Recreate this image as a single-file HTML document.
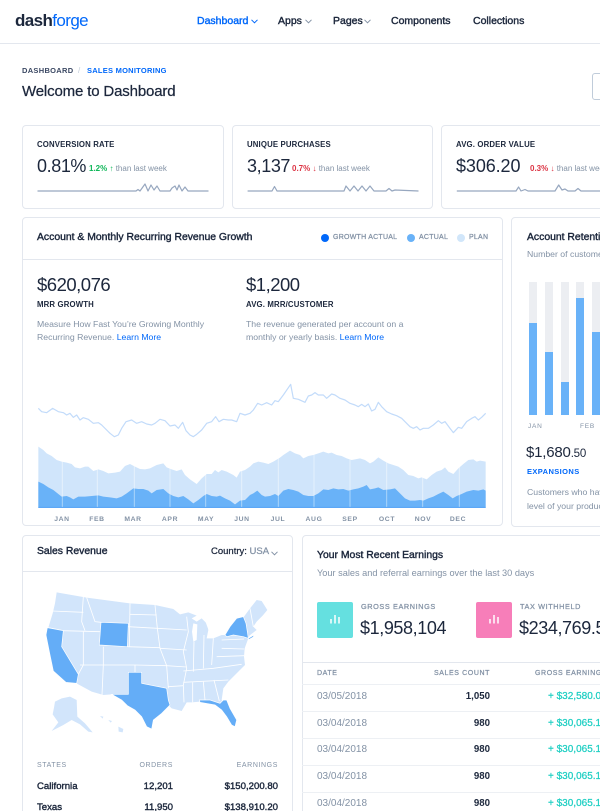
<!DOCTYPE html>
<html><head><meta charset="utf-8">
<style>
*{box-sizing:border-box;margin:0;padding:0}
html,body{width:600px;height:811px;overflow:hidden;background:#fff}
body{position:relative;font-family:"Liberation Sans","DejaVu Sans",sans-serif;color:#1c273c}
.t{position:absolute;white-space:nowrap;line-height:20px;height:20px}
.m{-webkit-text-stroke:0.25px currentColor}
.n{-webkit-text-stroke:0.4px currentColor}
.card{position:absolute;border:1px solid #e3e7ee;border-radius:4px;background:#fff}
.lbl{font-size:7.8px;font-weight:bold;letter-spacing:0.15px;color:#1c273c}
.g{color:#8392a5}
.b{color:#0168fa}
.cap{font-size:7px;letter-spacing:0.6px;color:#8392a5}
.mon{position:absolute;width:40px;text-align:center;font-size:6.8px;letter-spacing:0.6px;color:#8392a5;font-weight:bold;line-height:20px;top:510px}
.row{position:absolute;left:302px;width:300px;height:1px;background:#edf0f4}
</style></head><body>

<!-- header -->
<div class="t" style="left:15px;top:11px;font-size:17px;letter-spacing:-0.6px"><b style="color:#1c273c">dash</b><span style="color:#0168fa">forge</span></div>
<div class="t n b" style="left:197px;top:11px;font-size:10.5px">Dashboard</div>
<svg style="position:absolute;left:251px;top:19px" width="7" height="5"><polyline points="0.5,0.8 3.5,3.8 6.5,0.8" fill="none" stroke="#0168fa" stroke-width="1"/></svg>
<div class="t n" style="left:278px;top:11px;font-size:10.5px">Apps</div>
<svg style="position:absolute;left:305px;top:19px" width="7" height="5"><polyline points="0.5,0.8 3.5,3.8 6.5,0.8" fill="none" stroke="#8392a5" stroke-width="1"/></svg>
<div class="t n" style="left:333px;top:11px;font-size:10.5px">Pages</div>
<svg style="position:absolute;left:364px;top:19px" width="7" height="5"><polyline points="0.5,0.8 3.5,3.8 6.5,0.8" fill="none" stroke="#8392a5" stroke-width="1"/></svg>
<div class="t n" style="left:391px;top:11px;font-size:10.5px">Components</div>
<div class="t n" style="left:473px;top:11px;font-size:10.5px">Collections</div>
<div style="position:absolute;left:0;top:43px;width:600px;height:1px;background:#e3e7ee"></div>

<!-- breadcrumb -->
<div class="t" style="left:22px;top:61px;font-size:7.5px;font-weight:bold;letter-spacing:0.3px;color:#3b4863">DASHBOARD</div>
<div class="t" style="left:78px;top:61px;font-size:8px;color:#c0ccda">/</div>
<div class="t b" style="left:87px;top:61px;font-size:7.5px;font-weight:bold;letter-spacing:0.25px">SALES MONITORING</div>
<div class="t m" style="left:22px;top:82px;font-size:15px;letter-spacing:-0.15px">Welcome to Dashboard</div>
<div style="position:absolute;left:592px;top:73px;width:30px;height:27px;border:1px solid #c0ccda;border-radius:3px"></div>

<!-- stat cards -->
<div class="card" style="left:22px;top:125px;width:202px;height:84px"></div>
<div class="card" style="left:232px;top:125px;width:201px;height:84px"></div>
<div class="card" style="left:441px;top:125px;width:200px;height:84px"></div>

<div class="t lbl" style="left:37px;top:135px">CONVERSION RATE</div>
<div class="t" style="left:37px;top:156px;font-size:18px;letter-spacing:-0.4px">0.81%</div>
<div class="t" style="left:89px;top:159px;font-size:8px"><b style="color:#10b759">1.2%</b> <span style="color:#10b759">↑</span> <span class="g">than last week</span></div>

<div class="t lbl" style="left:247px;top:135px">UNIQUE PURCHASES</div>
<div class="t" style="left:247px;top:156px;font-size:18px;letter-spacing:-0.4px">3,137</div>
<div class="t" style="left:292px;top:159px;font-size:8px"><b style="color:#dc3545">0.7%</b> <span style="color:#dc3545">↓</span> <span class="g">than last week</span></div>

<div class="t lbl" style="left:456px;top:135px">AVG. ORDER VALUE</div>
<div class="t" style="left:456px;top:156px;font-size:18px;letter-spacing:-0.1px">$306.20</div>
<div class="t" style="left:530px;top:159px;font-size:8px"><b style="color:#dc3545">0.3%</b> <span style="color:#dc3545">↓</span> <span class="g">than last week</span></div>

<svg style="position:absolute;left:0;top:175px" width="600" height="20">
<g fill="none" stroke="#97a7bf" stroke-width="1.2" stroke-linejoin="round">
<polyline points="37.5,16 136,16 138,14.5 140,16 145,9 148,16 151,10 154,15 157,11 160,16 170,16 172,13 175,11 177,15 179,10 182,16 185,12 188,16 208.5,16"/>
<polyline points="247.6,16 272,16 274.5,11.5 277,16 344,16 346,11 350,16 354,11 358,16 362,11 366,16 370,11 374,16 386,16 389,13.5 392,16 395,15 418.5,16"/>
<polyline points="456.8,16 516,16 518.6,12 521,16 525,14.5 528,16 555,16 558.7,10 562,15 565,14 568,16 575,16 578,13.5 581,16 600,16"/>
</g></svg>

<!-- main chart card -->
<div class="card" style="left:22px;top:217px;width:481px;height:309px"></div>
<div style="position:absolute;left:23px;top:259px;width:479px;height:1px;background:#e3e7ee"></div>
<div class="t n" style="left:37px;top:228px;font-size:10.4px">Account &amp; Monthly Recurring Revenue Growth</div>
<div style="position:absolute;left:321px;top:234px;width:8px;height:8px;border-radius:50%;background:#0168fa"></div>
<div class="t m" style="left:333px;top:228px;font-size:7px;letter-spacing:0.25px;color:#8392a5">GROWTH ACTUAL</div>
<div style="position:absolute;left:407px;top:234px;width:8px;height:8px;border-radius:50%;background:#69b2f8"></div>
<div class="t m" style="left:419px;top:228px;font-size:7px;letter-spacing:0.25px;color:#8392a5">ACTUAL</div>
<div style="position:absolute;left:457px;top:234px;width:8px;height:8px;border-radius:50%;background:#d1e6fa"></div>
<div class="t m" style="left:469px;top:228px;font-size:7px;letter-spacing:0.25px;color:#8392a5">PLAN</div>

<div class="t" style="left:37px;top:275px;font-size:18.5px;letter-spacing:-0.5px">$620,076</div>
<div class="t lbl" style="left:37px;top:295px">MRR GROWTH</div>
<div class="t g" style="left:37px;top:314px;font-size:8.7px">Measure How Fast You’re Growing Monthly</div>
<div class="t g" style="left:37px;top:327px;font-size:8.7px">Recurring Revenue. <span class="b">Learn More</span></div>

<div class="t" style="left:246px;top:275px;font-size:18.5px;letter-spacing:-0.5px">$1,200</div>
<div class="t lbl" style="left:246px;top:295px">AVG. MRR/CUSTOMER</div>
<div class="t g" style="left:246px;top:314px;font-size:8.7px">The revenue generated per account on a</div>
<div class="t g" style="left:246px;top:327px;font-size:8.7px">monthly or yearly basis. <span class="b">Learn More</span></div>

<svg style="position:absolute;left:20px;top:370px" width="490" height="165" viewBox="0 0 1470 495" preserveAspectRatio="none">
<path fill="#d0e5fb" d="M55,413 L55,230 70,240 80,250 95,258 110,270 125,275 140,278 155,282 165,292 180,295 195,290 205,290 220,303 235,298 250,303 265,310 285,308 300,305 315,288 330,282 345,290 360,297 375,298 390,295 410,285 430,280 440,292 455,298 470,303 485,298 495,315 510,328 530,342 545,325 560,312 575,312 585,300 595,307 605,300 620,305 640,315 650,323 660,305 675,300 690,290 700,280 715,275 730,278 745,282 760,275 780,263 790,255 810,242 825,250 840,255 850,265 865,258 880,255 895,250 910,245 925,250 935,248 950,255 965,258 980,265 995,270 1005,268 1020,265 1035,270 1050,280 1060,275 1075,262 1090,272 1105,280 1120,285 1135,290 1150,300 1165,315 1180,318 1195,325 1205,322 1220,328 1235,315 1250,305 1265,300 1275,292 1285,305 1300,312 1315,295 1330,282 1345,270 1360,268 1370,275 1380,272 1397,275 L1397,413 Z"/>
<path fill="#69b2f8" d="M55,413 L55,335 70,342 85,352 100,360 115,372 125,380 140,378 150,382 160,388 175,380 195,380 215,378 235,376 250,380 270,382 290,385 305,380 320,370 340,355 355,357 370,357 385,362 395,370 410,360 430,357 445,370 460,378 475,382 490,378 505,388 520,400 535,390 550,378 560,372 575,378 590,380 600,377 615,385 630,392 645,403 660,392 675,390 690,375 700,370 712,362 725,375 735,380 750,378 765,372 775,378 790,362 805,357 820,360 835,365 850,375 865,378 880,378 895,370 910,358 925,360 940,355 955,358 970,357 985,362 1000,358 1015,355 1030,350 1040,345 1050,358 1065,355 1075,352 1090,360 1110,358 1125,355 1140,370 1155,385 1170,392 1185,392 1200,390 1210,392 1225,385 1240,380 1255,372 1270,365 1285,375 1298,385 1310,378 1325,372 1340,365 1360,360 1375,362 1390,358 1397,362 L1397,413 Z"/>
<g stroke="#ffffff" stroke-opacity="0.45" stroke-width="3">
<line x1="127" y1="230" x2="127" y2="413"/><line x1="232" y1="230" x2="232" y2="413"/><line x1="343" y1="230" x2="343" y2="413"/><line x1="450" y1="230" x2="450" y2="413"/><line x1="557" y1="230" x2="557" y2="413"/><line x1="665" y1="230" x2="665" y2="413"/><line x1="775" y1="230" x2="775" y2="413"/><line x1="882" y1="230" x2="882" y2="413"/><line x1="990" y1="230" x2="990" y2="413"/><line x1="1100" y1="230" x2="1100" y2="413"/><line x1="1208" y1="230" x2="1208" y2="413"/><line x1="1318" y1="230" x2="1318" y2="413"/>
</g>
<line x1="55" y1="412" x2="1397" y2="412" stroke="#4d9ef6" stroke-width="3"/>
<polyline fill="none" stroke="#c2dbfa" stroke-width="3.6" stroke-linejoin="round" points="55,115 65,125 80,128 98,115 115,125 130,128 140,135 150,130 160,142 170,135 180,150 190,143 205,148 220,160 235,158 245,165 260,180 270,190 283,200 295,195 305,175 318,155 335,150 350,160 365,155 380,162 395,165 405,160 420,148 435,152 450,168 465,165 475,175 488,157 498,182 510,195 520,200 530,193 545,180 560,160 575,155 587,140 597,155 610,148 625,150 635,150 650,155 660,130 675,135 690,130 700,120 713,100 725,105 740,98 755,105 765,92 775,95 790,75 812,43 820,85 835,88 855,97 865,78 875,75 885,68 895,75 910,75 920,85 935,72 945,75 960,85 975,90 990,100 1005,105 1015,110 1025,103 1035,110 1045,102 1055,123 1065,118 1075,97 1085,110 1100,125 1115,132 1130,137 1145,145 1155,155 1170,170 1180,175 1190,170 1200,180 1210,175 1225,175 1240,165 1255,152 1265,160 1275,155 1290,175 1300,188 1315,172 1325,175 1340,155 1355,145 1365,140 1375,150 1385,142 1397,130"/>
</svg>
<div class="mon" style="left:42px">JAN</div>
<div class="mon" style="left:77px">FEB</div>
<div class="mon" style="left:113px">MAR</div>
<div class="mon" style="left:150px">APR</div>
<div class="mon" style="left:186px">MAY</div>
<div class="mon" style="left:222px">JUN</div>
<div class="mon" style="left:258px">JUL</div>
<div class="mon" style="left:294px">AUG</div>
<div class="mon" style="left:330px">SEP</div>
<div class="mon" style="left:367px">OCT</div>
<div class="mon" style="left:403px">NOV</div>
<div class="mon" style="left:438px">DEC</div>

<!-- retention card -->
<div class="card" style="left:511px;top:217px;width:100px;height:310px"></div>
<div class="t n" style="left:527px;top:228px;font-size:10.4px">Account Retention</div>
<div class="t g" style="left:527px;top:244px;font-size:8.7px">Number of customers</div>
<div style="position:absolute;left:529px;top:282px;width:8px;height:133px;background:#eceef2"></div>
<div style="position:absolute;left:545px;top:282px;width:8px;height:133px;background:#eceef2"></div>
<div style="position:absolute;left:561px;top:282px;width:8px;height:133px;background:#eceef2"></div>
<div style="position:absolute;left:576px;top:282px;width:8px;height:133px;background:#eceef2"></div>
<div style="position:absolute;left:592px;top:282px;width:8px;height:133px;background:#eceef2"></div>
<div style="position:absolute;left:529px;top:323px;width:8px;height:92px;background:#69b2f8"></div>
<div style="position:absolute;left:545px;top:352px;width:8px;height:63px;background:#69b2f8"></div>
<div style="position:absolute;left:561px;top:382px;width:8px;height:33px;background:#69b2f8"></div>
<div style="position:absolute;left:576px;top:298px;width:8px;height:117px;background:#69b2f8"></div>
<div style="position:absolute;left:592px;top:332px;width:8px;height:83px;background:#69b2f8"></div>
<div class="t" style="left:528px;top:417px;font-size:6.5px;letter-spacing:0.8px;color:#8392a5">JAN</div>
<div class="t" style="left:580px;top:417px;font-size:6.5px;letter-spacing:0.8px;color:#8392a5">FEB</div>
<div class="t" style="left:526px;top:443px;font-size:15px;letter-spacing:-0.2px">$1,680<span style="font-size:11.5px">.50</span></div>
<div class="t b" style="left:527px;top:462px;font-size:7.5px;font-weight:bold;letter-spacing:0.4px">EXPANSIONS</div>
<div class="t g" style="left:527px;top:482px;font-size:8.7px">Customers who have</div>
<div class="t g" style="left:527px;top:496px;font-size:8.7px">level of your product</div>

<!-- sales revenue card -->
<div class="card" style="left:22px;top:535px;width:271px;height:300px"></div>
<div style="position:absolute;left:23px;top:571px;width:269px;height:1px;background:#e3e7ee"></div>
<div class="t n" style="left:37px;top:542px;font-size:10.4px">Sales Revenue</div>
<div class="t m" style="left:211px;top:542px;font-size:9.5px">Country: <span class="g">USA</span></div>
<svg style="position:absolute;left:271px;top:551px" width="7" height="5"><polyline points="0.5,0.8 3.5,3.8 6.5,0.8" fill="none" stroke="#8392a5" stroke-width="1"/></svg>

<svg style="position:absolute;left:40px;top:585px" width="235" height="160" viewBox="0 0 705 480">
<g fill="#d2e5fb">
<polygon points="50,22 140,38 270,55 345,60 400,72 420,88 445,82 470,92 455,100 470,110 485,100 500,115 505,135 500,160 520,160 545,150 555,150 570,125 590,100 612,95 630,70 650,45 665,48 682,75 668,92 650,110 640,125 650,135 628,152 622,168 614,190 612,215 615,240 595,260 565,290 550,310 545,345 570,370 590,405 585,425 575,420 560,395 545,375 525,358 500,350 480,350 455,352 440,352 425,378 395,370 385,360 365,385 340,405 335,432 320,425 305,395 285,375 262,362 245,345 215,328 190,330 155,320 115,298 110,295 78,292 40,258 30,210 18,150 25,128 38,85 45,55"/>
<polygon points="45,350 65,340 90,335 110,345 112,395 135,415 158,442 145,440 120,418 95,405 70,420 35,438 55,412 38,388 42,368"/>
<polygon points="180,393 190,395 188,401"/>
<polygon points="205,405 216,408 212,413"/>
<polygon points="235,425 250,432 248,442 236,440"/>
</g>
<g fill="#fff">
<polygon points="460,115 472,118 470,165 460,170 456,140"/>
<polygon points="495,106 510,110 514,135 503,128"/>
</g>
<g fill="none" stroke="#fff" stroke-width="2.5">
<polyline points="35,78 130,82"/>
<polyline points="130,35 125,110 135,137"/>
<polyline points="25,128 70,137 180,140"/>
<polyline points="140,38 165,110 183,112"/>
<polyline points="270,55 268,185"/>
<polyline points="270,88 350,90"/>
<polyline points="265,125 352,130"/>
<polyline points="262,185 360,188"/>
<polyline points="190,185 190,240"/>
<polyline points="120,240 285,240 380,242"/>
<polyline points="130,140 130,240 115,268"/>
<polyline points="190,240 186,330"/>
<polyline points="285,240 285,262"/>
<polyline points="345,60 352,130 360,190 380,242 385,310"/>
<polyline points="352,130 440,135"/>
<polyline points="360,190 440,195"/>
<polyline points="380,242 440,246"/>
<polyline points="385,305 430,302"/>
<polyline points="440,95 445,140 430,200 440,250 430,300 432,352"/>
<polyline points="462,170 460,260"/>
<polyline points="492,150 490,250"/>
<polyline points="520,160 515,240"/>
<polyline points="430,258 520,250 605,238"/>
<polyline points="430,292 565,285"/>
<polyline points="458,292 458,352"/>
<polyline points="490,290 495,345"/>
<polyline points="522,285 538,348"/>
<polyline points="545,165 612,162"/>
<polyline points="545,190 612,192"/>
<polyline points="530,215 612,212"/>
<polyline points="610,95 622,140"/>
<polyline points="630,70 640,125"/>
</g>
<g fill="#64adf7" stroke="#fff" stroke-width="2">
<polygon points="22,128 70,137 65,185 115,268 110,295 78,292 40,258 30,210 18,150"/>
<polygon points="183,112 265,115 262,185 178,180"/>
<polygon points="265,262 305,262 305,295 340,302 380,310 385,345 390,360 365,385 340,405 335,432 320,425 305,395 285,375 262,362 245,345 215,328 265,328"/>
<polygon points="555,150 570,125 590,100 610,95 618,115 622,140 625,160 610,155 580,150 560,155"/>
<polygon points="625,160 642,150 640,156 626,164"/>
<polygon points="478,345 510,345 540,355 550,345 560,345 570,370 590,405 585,425 575,420 560,395 545,375 525,360 480,352"/>
</g>
</svg>

<div class="t cap" style="left:37px;top:756px">STATES</div>
<div class="t cap" style="left:113px;width:60px;text-align:right;top:756px">ORDERS</div>
<div class="t cap" style="left:198px;width:80px;text-align:right;top:756px">EARNINGS</div>
<div class="t n" style="left:37px;top:777px;font-size:9.6px">California</div>
<div class="t n" style="left:113px;width:60px;text-align:right;top:777px;font-size:9.6px">12,201</div>
<div class="t n" style="left:178px;width:100px;text-align:right;top:777px;font-size:9.6px">$150,200.80</div>
<div class="t n" style="left:37px;top:798px;font-size:9.6px">Texas</div>
<div class="t n" style="left:113px;width:60px;text-align:right;top:798px;font-size:9.6px">11,950</div>
<div class="t n" style="left:178px;width:100px;text-align:right;top:798px;font-size:9.6px">$138,910.20</div>

<!-- earnings card -->
<div class="card" style="left:302px;top:535px;width:310px;height:300px"></div>
<div class="t n" style="left:317px;top:546px;font-size:10.4px">Your Most Recent Earnings</div>
<div class="t g" style="left:317px;top:563px;font-size:9.2px">Your sales and referral earnings over the last 30 days</div>

<div style="position:absolute;left:317px;top:602px;width:36px;height:36px;border-radius:2px;background:#65e0e0"></div>
<svg style="position:absolute;left:317px;top:602px" width="36" height="36"><g stroke="#fff" stroke-width="1.5"><line x1="14" y1="21.5" x2="14" y2="17"/><line x1="18" y1="21.5" x2="18" y2="13"/><line x1="22" y1="21.5" x2="22" y2="15"/></g></svg>
<div class="t cap m" style="left:361px;top:597px;font-size:7.3px">GROSS EARNINGS</div>
<div class="t" style="left:360px;top:618px;font-size:18px;letter-spacing:-0.4px">$1,958,104</div>

<div style="position:absolute;left:476px;top:602px;width:36px;height:36px;border-radius:2px;background:#f77eb9"></div>
<svg style="position:absolute;left:476px;top:602px" width="36" height="36"><g stroke="#fff" stroke-width="1.5"><line x1="14" y1="21.5" x2="14" y2="17"/><line x1="18" y1="21.5" x2="18" y2="13"/><line x1="22" y1="21.5" x2="22" y2="15"/></g></svg>
<div class="t cap m" style="left:520px;top:597px;font-size:7.3px">TAX WITHHELD</div>
<div class="t" style="left:519px;top:618px;font-size:18px;letter-spacing:-0.4px">$234,769.50</div>

<div class="row" style="top:662px;background:#e3e7ee"></div>
<div class="t cap m" style="left:317px;top:664px">DATE</div>
<div class="t cap m" style="left:410px;width:80px;text-align:right;top:664px">SALES COUNT</div>
<div class="t cap m" style="left:535px;top:664px">GROSS EARNINGS</div>
<div class="row" style="top:684px"></div>
<div class="row" style="top:711px"></div>
<div class="row" style="top:738px"></div>
<div class="row" style="top:765px"></div>
<div class="row" style="top:792px"></div>

<div class="t g" style="left:317px;top:687px;font-size:10px">03/05/2018</div>
<div class="t" style="left:410px;width:80px;text-align:right;top:687px;font-size:9.7px;font-weight:bold">1,050</div>
<div class="t m" style="left:548px;top:687px;font-size:10px;color:#1fcfc3">+ $32,580.00</div>

<div class="t g" style="left:317px;top:714px;font-size:10px">03/04/2018</div>
<div class="t" style="left:410px;width:80px;text-align:right;top:714px;font-size:9.7px;font-weight:bold">980</div>
<div class="t m" style="left:548px;top:714px;font-size:10px;color:#1fcfc3">+ $30,065.10</div>

<div class="t g" style="left:317px;top:740px;font-size:10px">03/04/2018</div>
<div class="t" style="left:410px;width:80px;text-align:right;top:740px;font-size:9.7px;font-weight:bold">980</div>
<div class="t m" style="left:548px;top:740px;font-size:10px;color:#1fcfc3">+ $30,065.10</div>

<div class="t g" style="left:317px;top:767px;font-size:10px">03/04/2018</div>
<div class="t" style="left:410px;width:80px;text-align:right;top:767px;font-size:9.7px;font-weight:bold">980</div>
<div class="t m" style="left:548px;top:767px;font-size:10px;color:#1fcfc3">+ $30,065.10</div>

<div class="t g" style="left:317px;top:794px;font-size:10px">03/04/2018</div>
<div class="t" style="left:410px;width:80px;text-align:right;top:794px;font-size:9.7px;font-weight:bold">980</div>
<div class="t m" style="left:548px;top:794px;font-size:10px;color:#1fcfc3">+ $30,065.10</div>

</body></html>
